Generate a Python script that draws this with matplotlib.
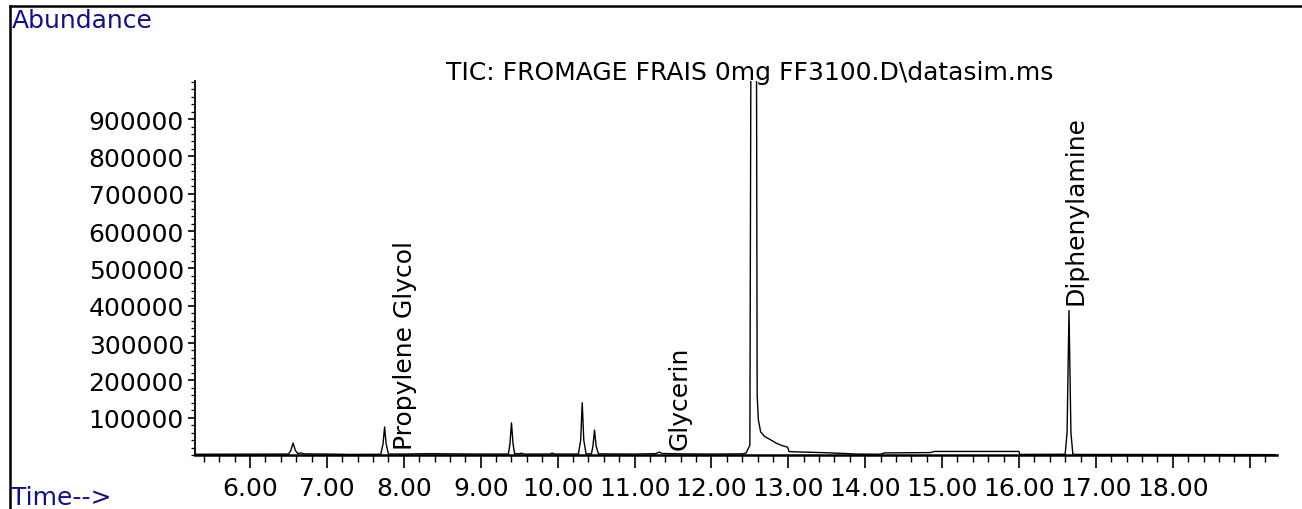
import matplotlib.pyplot as plt
from matplotlib.lines import Line2D
from matplotlib.ticker import MultipleLocator, FixedLocator

# TIC trace (time in min, abundance)
time = [5.30, 6.50, 6.53, 6.56, 6.59, 6.62, 6.66, 6.70, 7.00, 7.30,
        7.70, 7.73, 7.75, 7.77, 7.80, 8.00, 8.30, 8.60, 9.00,
        9.36, 9.38, 9.40, 9.42, 9.44, 9.50, 9.53, 9.56, 9.90, 9.93, 9.96,
        10.27, 10.30, 10.32, 10.34, 10.37, 10.44, 10.46, 10.48, 10.50, 10.53,
        11.00, 11.28, 11.32, 11.36, 11.60, 12.00, 12.40, 12.45, 12.50,
        12.515, 12.55, 12.585, 12.595, 12.61, 12.64, 12.69, 12.75, 12.85, 12.92, 12.99,
        13.01, 13.50, 13.90, 14.20, 14.25, 14.85, 14.90, 16.00, 16.01,
        16.60, 16.625, 16.65, 16.675, 16.70, 16.72, 19.33]
abundance = [2000, 2500, 12000, 32000, 12000, 4000, 5500, 3000, 2500, 1500,
             2000, 30000, 75000, 30000, 2500, 2500, 3500, 3000, 2500,
             2500, 30000, 86000, 30000, 4000, 3000, 5000, 2500, 2500, 5000, 2500,
             2500, 40000, 140000, 40000, 3000, 3000, 25000, 67000, 25000, 3000,
             2500, 3500, 8000, 4000, 3000, 2500, 3000, 5000, 26000,
             1200000, 5000000, 1200000, 160000, 95000, 62000, 50000, 43000, 31000, 25000, 21000,
             9000, 6000, 2500, 2000, 5500, 6500, 9500, 9500, 1500,
             2000, 60000, 387000, 60000, 3000, 1500, 1000]

peak_names = ['Propylene Glycol', 'Glycerin', 'Diphenylamine']
peak_label_x = [8.02, 11.59, 16.74]
peak_label_y = [15000, 15000, 405000]

y_ticks = [100000, 200000, 300000, 400000, 500000, 600000, 700000, 800000, 900000]
x_ticks = [6, 7, 8, 9, 10, 11, 12, 13, 14, 15, 16, 17, 18, 19]
x_labels = ['6.00', '7.00', '8.00', '9.00', '10.00', '11.00', '12.00', '13.00',
            '14.00', '15.00', '16.00', '17.00', '18.00', '']

fs = 18
navy = '#10108c'

fig = plt.figure(figsize=(13.02, 5.10), dpi=100)
ax = fig.add_axes([0.1498, 0.1059, 0.831, 0.7333])
ax.plot(time, abundance, color='black', lw=1.0)

ax.set_xlim(5.285, 19.355)
ax.set_ylim(0, 1002000)

ax.spines['top'].set_visible(False)
ax.spines['right'].set_visible(False)
ax.spines['left'].set_linewidth(1.3)
ax.spines['bottom'].set_linewidth(1.8)

ax.xaxis.set_major_locator(FixedLocator(x_ticks))
ax.set_xticklabels(x_labels)
ax.xaxis.set_minor_locator(MultipleLocator(0.2))
ax.yaxis.set_major_locator(FixedLocator(y_ticks))
ax.set_yticklabels([str(v) for v in y_ticks])
ax.yaxis.set_minor_locator(MultipleLocator(20000))

ax.tick_params(axis='x', which='major', length=9, width=1.2, pad=6, labelsize=fs)
ax.tick_params(axis='x', which='minor', length=5, width=1.0)
ax.tick_params(axis='y', which='major', length=5, width=1.2, pad=3, labelsize=fs)
ax.tick_params(axis='y', which='minor', length=3, width=0.9)

for name, lx, ly in zip(peak_names, peak_label_x, peak_label_y):
    ax.text(lx, ly, name, rotation=90, ha='center', va='bottom', fontsize=fs)

fig.text(0.576, 1 - 73 / 510, r'TIC: FROMAGE FRAIS 0mg FF3100.D\datasim.ms',
         ha='center', va='center', fontsize=fs)
fig.text(12 / 1302, 1 - 9 / 510, 'Abundance', ha='left', va='top',
         fontsize=fs, color=navy)
fig.text(11 / 1302, 1 - 505 / 510, 'Time-->', ha='left', va='baseline',
         fontsize=fs, color=navy)

# page frame (top and left edges only are in view)
fig.add_artist(Line2D([10 / 1302, 1.0], [1 - 7 / 510, 1 - 7 / 510],
                      color='black', lw=1.8, transform=fig.transFigure))
fig.add_artist(Line2D([10 / 1302, 10 / 1302], [0.0, 1 - 7 / 510],
                      color='black', lw=1.8, transform=fig.transFigure))

fig.savefig('out.png', dpi=100)
